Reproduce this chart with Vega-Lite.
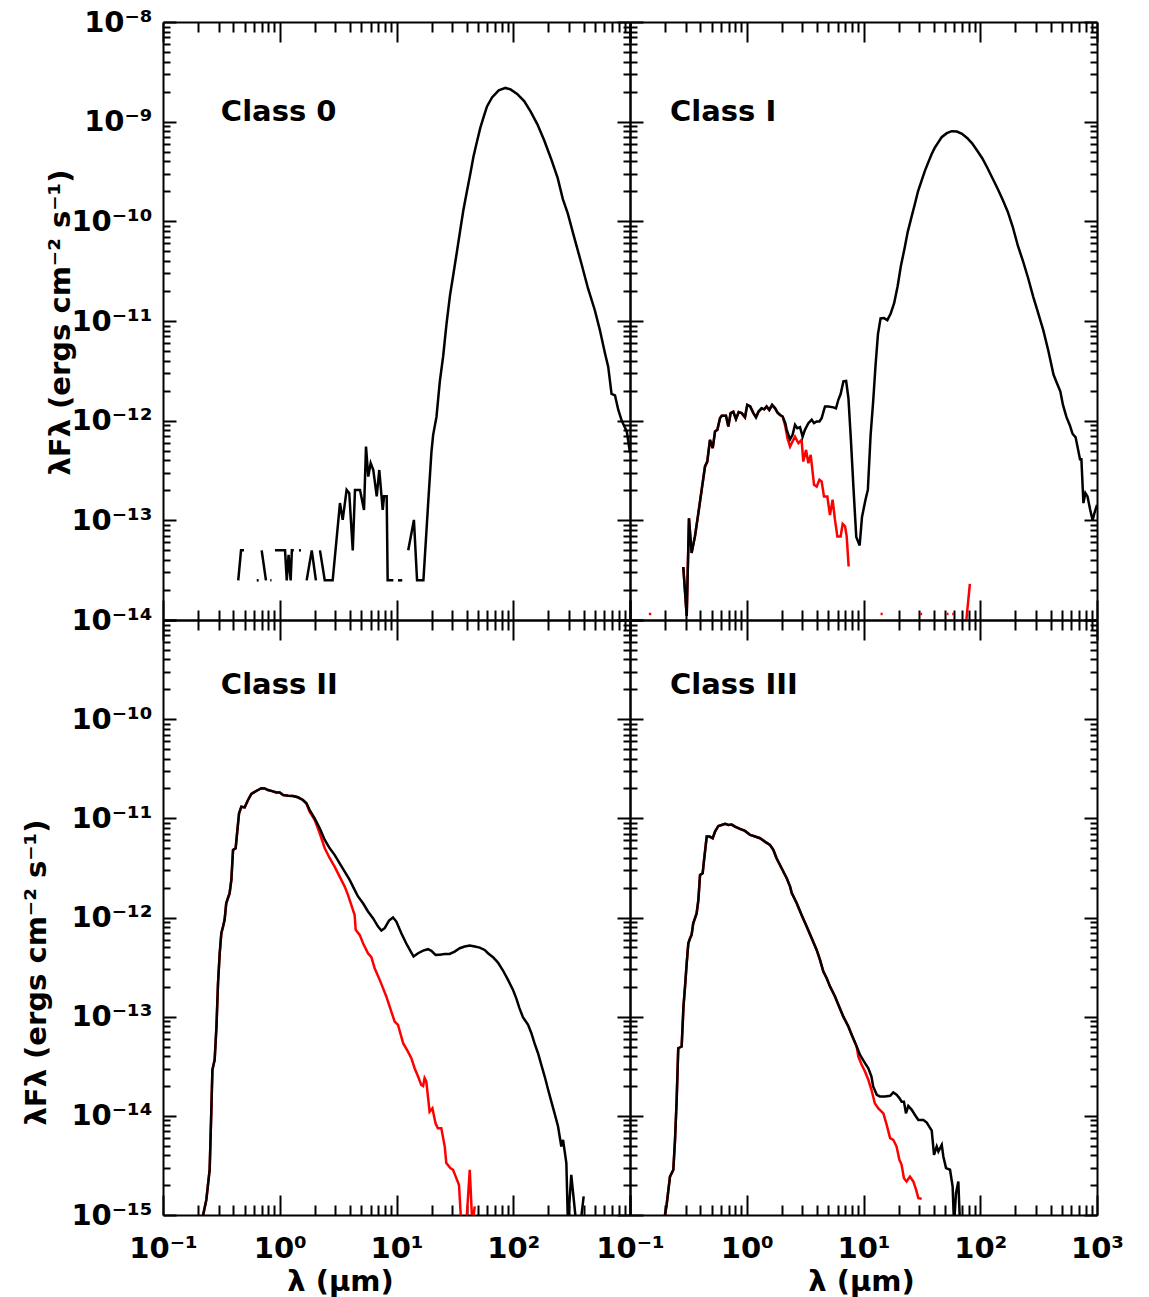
{
"$schema":"https://vega.github.io/schema/vega-lite/v6.json",
"autosize":{"type":"pad"},
"padding":{"left":22,"top":8,"right":5,"bottom":3},
"background":"white",
"config":{
 "view":{"stroke":null},
 "axis":{"domainColor":"#000","domainWidth":2,"tickColor":"#000","tickWidth":2,"grid":false,"labelFont":"DejaVu Sans","labelFontWeight":"bold","labelFontSize":29,"labelColor":"#000","labelOverlap":false,"labelFlush":false,"titleFont":"DejaVu Sans","titleFontWeight":"bold","titleFontSize":29,"titleColor":"#000","zindex":1}
},
"datasets":{
"lab":[
{"p":"0","t":"Class 0","x":0.313,"y":1.25e-9},
{"p":"I","t":"Class I","x":0.22,"y":1.25e-9},
{"p":"II","t":"Class II","x":0.313,"y":2.2e-10},
{"p":"III","t":"Class III","x":0.22,"y":2.2e-10}
],
"sed":[
{"p":"0","c":"k","s":1,"x":0.441,"y":2.5e-14},{"p":"0","c":"k","s":1,"x":0.466,"y":5e-14},{"p":"0","c":"k","s":1,"x":0.494,"y":5e-14},
{"p":"0","c":"k","s":2,"x":0.635,"y":2.5e-14},{"p":"0","c":"k","s":2,"x":0.66,"y":2.5e-14},
{"p":"0","c":"k","s":3,"x":0.70,"y":5e-14},{"p":"0","c":"k","s":3,"x":0.762,"y":2.5e-14},
{"p":"0","c":"k","s":4,"x":0.83,"y":2.5e-14},{"p":"0","c":"k","s":4,"x":0.85,"y":2.5e-14},
{"p":"0","c":"k","s":5,"x":0.91,"y":5e-14},{"p":"0","c":"k","s":5,"x":1.11,"y":5e-14},{"p":"0","c":"k","s":5,"x":1.148,"y":2.5e-14},{"p":"0","c":"k","s":5,"x":1.19,"y":4.5e-14},{"p":"0","c":"k","s":5,"x":1.24,"y":2.5e-14},{"p":"0","c":"k","s":5,"x":1.27,"y":5e-14},{"p":"0","c":"k","s":5,"x":1.32,"y":5e-14},
{"p":"0","c":"k","s":6,"x":1.46,"y":5e-14},{"p":"0","c":"k","s":6,"x":1.52,"y":5e-14},
{"p":"0","c":"k","s":7,"x":1.70,"y":2.5e-14},{"p":"0","c":"k","s":7,"x":1.88,"y":5e-14},{"p":"0","c":"k","s":7,"x":2.04,"y":2.5e-14},
{"p":"0","c":"k","s":8,"x":2.21,"y":5e-14},{"p":"0","c":"k","s":8,"x":2.43,"y":2.5e-14},{"p":"0","c":"k","s":8,"x":2.84,"y":2.5e-14},{"p":"0","c":"k","s":8,"x":3.28,"y":1.49e-13},{"p":"0","c":"k","s":8,"x":3.46,"y":1.01e-13},{"p":"0","c":"k","s":8,"x":3.74,"y":2.02e-13},{"p":"0","c":"k","s":8,"x":3.94,"y":1.87e-13},{"p":"0","c":"k","s":8,"x":4.22,"y":5e-14},{"p":"0","c":"k","s":8,"x":4.41,"y":2.02e-13},{"p":"0","c":"k","s":8,"x":4.87,"y":2.02e-13},{"p":"0","c":"k","s":8,"x":5.27,"y":1.27e-13},{"p":"0","c":"k","s":8,"x":5.48,"y":5.5e-13},{"p":"0","c":"k","s":8,"x":5.73,"y":2.75e-13},{"p":"0","c":"k","s":8,"x":6.01,"y":3.75e-13},{"p":"0","c":"k","s":8,"x":6.33,"y":3.2e-13},{"p":"0","c":"k","s":8,"x":6.77,"y":1.74e-13},{"p":"0","c":"k","s":8,"x":7.12,"y":3.2e-13},{"p":"0","c":"k","s":8,"x":7.62,"y":1.27e-13},{"p":"0","c":"k","s":8,"x":7.82,"y":1.74e-13},{"p":"0","c":"k","s":8,"x":8.24,"y":1.74e-13},{"p":"0","c":"k","s":8,"x":8.4,"y":2.5e-14},{"p":"0","c":"k","s":8,"x":9.4,"y":2.5e-14},
{"p":"0","c":"k","s":9,"x":10.3,"y":2.5e-14},{"p":"0","c":"k","s":9,"x":11.2,"y":2.5e-14},
{"p":"0","c":"k","s":10,"x":12.6,"y":5e-14},{"p":"0","c":"k","s":10,"x":14.1,"y":1.01e-13},{"p":"0","c":"k","s":10,"x":15.0,"y":2.5e-14},{"p":"0","c":"k","s":10,"x":17.0,"y":2.5e-14},{"p":"0","c":"k","s":10,"x":18.6,"y":1.38e-13},{"p":"0","c":"k","s":10,"x":19.9,"y":4.77e-13},{"p":"0","c":"k","s":10,"x":20.6,"y":7.2e-13},{"p":"0","c":"k","s":10,"x":22.0,"y":1.09e-12},{"p":"0","c":"k","s":10,"x":23.5,"y":2.48e-12},{"p":"0","c":"k","s":10,"x":25.1,"y":4.43e-12},{"p":"0","c":"k","s":10,"x":26.8,"y":9.3e-12},{"p":"0","c":"k","s":10,"x":28.7,"y":1.8e-11},{"p":"0","c":"k","s":10,"x":30.7,"y":2.94e-11},{"p":"0","c":"k","s":10,"x":32.8,"y":4.83e-11},{"p":"0","c":"k","s":10,"x":35.0,"y":7.9e-11},{"p":"0","c":"k","s":10,"x":37.4,"y":1.3e-10},{"p":"0","c":"k","s":10,"x":40.0,"y":1.97e-10},{"p":"0","c":"k","s":10,"x":42.8,"y":2.97e-10},{"p":"0","c":"k","s":10,"x":45.7,"y":4.49e-10},{"p":"0","c":"k","s":10,"x":48.8,"y":6.24e-10},{"p":"0","c":"k","s":10,"x":52.2,"y":8.67e-10},{"p":"0","c":"k","s":10,"x":55.7,"y":1.11e-9},{"p":"0","c":"k","s":10,"x":59.6,"y":1.42e-9},{"p":"0","c":"k","s":10,"x":65.8,"y":1.75e-9},{"p":"0","c":"k","s":10,"x":75.1,"y":2.06e-9},{"p":"0","c":"k","s":10,"x":85.8,"y":2.18e-9},{"p":"0","c":"k","s":10,"x":94.8,"y":2.11e-9},{"p":"0","c":"k","s":10,"x":108,"y":1.9e-9},{"p":"0","c":"k","s":10,"x":124,"y":1.61e-9},{"p":"0","c":"k","s":10,"x":141,"y":1.26e-9},{"p":"0","c":"k","s":10,"x":161,"y":9.4e-10},{"p":"0","c":"k","s":10,"x":184,"y":6.5e-10},{"p":"0","c":"k","s":10,"x":210,"y":4.3e-10},{"p":"0","c":"k","s":10,"x":240,"y":2.73e-10},{"p":"0","c":"k","s":10,"x":266,"y":1.67e-10},{"p":"0","c":"k","s":10,"x":293,"y":1.2e-10},{"p":"0","c":"k","s":10,"x":335,"y":6.7e-11},{"p":"0","c":"k","s":10,"x":383,"y":3.8e-11},{"p":"0","c":"k","s":10,"x":437,"y":2.12e-11},{"p":"0","c":"k","s":10,"x":499,"y":1.29e-11},{"p":"0","c":"k","s":10,"x":551,"y":8.2e-12},{"p":"0","c":"k","s":10,"x":609,"y":4.8e-12},{"p":"0","c":"k","s":10,"x":651,"y":3.46e-12},{"p":"0","c":"k","s":10,"x":695,"y":1.86e-12},{"p":"0","c":"k","s":10,"x":744,"y":1.79e-12},{"p":"0","c":"k","s":10,"x":794,"y":1.28e-12},{"p":"0","c":"k","s":10,"x":849,"y":1.0e-12},{"p":"0","c":"k","s":10,"x":938,"y":7.8e-13},{"p":"0","c":"k","s":10,"x":1000,"y":4.77e-13},

{"p":"I","c":"k","s":1,"x":0.286,"y":3.4e-14},{"p":"I","c":"k","s":1,"x":0.306,"y":1.1e-14},{"p":"I","c":"k","s":1,"x":0.320,"y":1.05e-13},{"p":"I","c":"k","s":1,"x":0.337,"y":4.7e-14},{"p":"I","c":"k","s":1,"x":0.360,"y":6.9e-14},{"p":"I","c":"k","s":1,"x":0.385,"y":1.18e-13},{"p":"I","c":"k","s":1,"x":0.411,"y":2.02e-13},{"p":"I","c":"k","s":1,"x":0.439,"y":3.47e-13},{"p":"I","c":"k","s":1,"x":0.459,"y":3.89e-13},{"p":"I","c":"k","s":1,"x":0.484,"y":6.41e-13},{"p":"I","c":"k","s":1,"x":0.511,"y":5.3e-13},{"p":"I","c":"k","s":1,"x":0.535,"y":7.78e-13},{"p":"I","c":"k","s":1,"x":0.560,"y":8.09e-13},{"p":"I","c":"k","s":1,"x":0.590,"y":1.06e-12},{"p":"I","c":"k","s":1,"x":0.610,"y":1.12e-12},{"p":"I","c":"k","s":1,"x":0.664,"y":1.12e-12},{"p":"I","c":"k","s":1,"x":0.695,"y":8.73e-13},{"p":"I","c":"k","s":1,"x":0.728,"y":1.19e-12},{"p":"I","c":"k","s":1,"x":0.767,"y":1.23e-12},{"p":"I","c":"k","s":1,"x":0.809,"y":1.04e-12},{"p":"I","c":"k","s":1,"x":0.853,"y":1.22e-12},{"p":"I","c":"k","s":1,"x":0.905,"y":1.19e-12},{"p":"I","c":"k","s":1,"x":0.966,"y":1.08e-12},{"p":"I","c":"k","s":1,"x":1.01,"y":1.44e-12},{"p":"I","c":"k","s":1,"x":1.07,"y":1.39e-12},{"p":"I","c":"k","s":1,"x":1.14,"y":1.19e-12},{"p":"I","c":"k","s":1,"x":1.20,"y":1.08e-12},{"p":"I","c":"k","s":1,"x":1.26,"y":1.23e-12},{"p":"I","c":"k","s":1,"x":1.34,"y":1.33e-12},{"p":"I","c":"k","s":1,"x":1.41,"y":1.3e-12},{"p":"I","c":"k","s":1,"x":1.48,"y":1.39e-12},{"p":"I","c":"k","s":1,"x":1.56,"y":1.28e-12},{"p":"I","c":"k","s":1,"x":1.65,"y":1.44e-12},{"p":"I","c":"k","s":1,"x":1.75,"y":1.33e-12},{"p":"I","c":"k","s":1,"x":1.83,"y":1.21e-12},{"p":"I","c":"k","s":1,"x":1.93,"y":1.14e-12},{"p":"I","c":"k","s":1,"x":2.03,"y":1.1e-12},
{"p":"I","c":"k","s":1,"x":2.14,"y":9.44e-13},{"p":"I","c":"k","s":1,"x":2.20,"y":8.09e-13},{"p":"I","c":"k","s":1,"x":2.35,"y":6.5e-13},{"p":"I","c":"k","s":1,"x":2.47,"y":7.2e-13},{"p":"I","c":"k","s":1,"x":2.59,"y":9.1e-13},{"p":"I","c":"k","s":1,"x":2.71,"y":8.4e-13},{"p":"I","c":"k","s":1,"x":2.86,"y":8.6e-13},{"p":"I","c":"k","s":1,"x":3.01,"y":6.9e-13},{"p":"I","c":"k","s":1,"x":3.15,"y":8.09e-13},{"p":"I","c":"k","s":1,"x":3.37,"y":9.44e-13},{"p":"I","c":"k","s":1,"x":3.60,"y":1.02e-12},{"p":"I","c":"k","s":1,"x":3.77,"y":9.44e-13},{"p":"I","c":"k","s":1,"x":3.97,"y":9.8e-13},{"p":"I","c":"k","s":1,"x":4.19,"y":9.8e-13},{"p":"I","c":"k","s":1,"x":4.38,"y":1.06e-12},{"p":"I","c":"k","s":1,"x":4.68,"y":1.39e-12},{"p":"I","c":"k","s":1,"x":5.00,"y":1.39e-12},{"p":"I","c":"k","s":1,"x":5.52,"y":1.36e-12},{"p":"I","c":"k","s":1,"x":5.81,"y":1.33e-12},{"p":"I","c":"k","s":1,"x":6.09,"y":1.62e-12},{"p":"I","c":"k","s":1,"x":6.37,"y":1.85e-12},{"p":"I","c":"k","s":1,"x":6.73,"y":2.48e-12},{"p":"I","c":"k","s":1,"x":7.10,"y":2.5e-12},{"p":"I","c":"k","s":1,"x":7.43,"y":1.68e-12},{"p":"I","c":"k","s":1,"x":7.79,"y":6.6e-13},{"p":"I","c":"k","s":1,"x":8.22,"y":2.03e-13},{"p":"I","c":"k","s":1,"x":8.67,"y":6.8e-14},{"p":"I","c":"k","s":1,"x":9.27,"y":5.6e-14},{"p":"I","c":"k","s":1,"x":9.71,"y":1.08e-13},{"p":"I","c":"k","s":1,"x":10.4,"y":1.61e-13},{"p":"I","c":"k","s":1,"x":10.9,"y":2.03e-13},{"p":"I","c":"k","s":1,"x":11.5,"y":7.1e-13},{"p":"I","c":"k","s":1,"x":12.1,"y":1.56e-12},{"p":"I","c":"k","s":1,"x":12.7,"y":3.68e-12},{"p":"I","c":"k","s":1,"x":13.3,"y":7.4e-12},{"p":"I","c":"k","s":1,"x":14.0,"y":1.06e-11},{"p":"I","c":"k","s":1,"x":15.0,"y":1.07e-11},{"p":"I","c":"k","s":1,"x":16.0,"y":1.02e-11},{"p":"I","c":"k","s":1,"x":17.1,"y":1.19e-11},{"p":"I","c":"k","s":1,"x":18.3,"y":1.51e-11},{"p":"I","c":"k","s":1,"x":19.6,"y":2.23e-11},{"p":"I","c":"k","s":1,"x":20.9,"y":3.56e-11},{"p":"I","c":"k","s":1,"x":22.4,"y":5.26e-11},{"p":"I","c":"k","s":1,"x":23.9,"y":7.8e-11},{"p":"I","c":"k","s":1,"x":25.6,"y":1.07e-10},{"p":"I","c":"k","s":1,"x":27.4,"y":1.46e-10},{"p":"I","c":"k","s":1,"x":29.3,"y":2.0e-10},{"p":"I","c":"k","s":1,"x":31.3,"y":2.52e-10},{"p":"I","c":"k","s":1,"x":33.5,"y":3.19e-10},{"p":"I","c":"k","s":1,"x":35.8,"y":3.88e-10},{"p":"I","c":"k","s":1,"x":38.3,"y":4.72e-10},{"p":"I","c":"k","s":1,"x":40.9,"y":5.51e-10},{"p":"I","c":"k","s":1,"x":43.7,"y":6.2e-10},{"p":"I","c":"k","s":1,"x":46.7,"y":6.98e-10},{"p":"I","c":"k","s":1,"x":51.7,"y":7.67e-10},{"p":"I","c":"k","s":1,"x":57.1,"y":8.03e-10},{"p":"I","c":"k","s":1,"x":63.1,"y":7.95e-10},{"p":"I","c":"k","s":1,"x":69.8,"y":7.55e-10},{"p":"I","c":"k","s":1,"x":77.1,"y":6.87e-10},{"p":"I","c":"k","s":1,"x":85.2,"y":6.06e-10},{"p":"I","c":"k","s":1,"x":94.3,"y":5.1e-10},{"p":"I","c":"k","s":1,"x":104,"y":4.3e-10},{"p":"I","c":"k","s":1,"x":115,"y":3.45e-10},{"p":"I","c":"k","s":1,"x":127,"y":2.72e-10},{"p":"I","c":"k","s":1,"x":141,"y":2.12e-10},{"p":"I","c":"k","s":1,"x":156,"y":1.64e-10},{"p":"I","c":"k","s":1,"x":172,"y":1.25e-10},{"p":"I","c":"k","s":1,"x":190,"y":8.77e-11},{"p":"I","c":"k","s":1,"x":210,"y":5.69e-11},{"p":"I","c":"k","s":1,"x":232,"y":4.01e-11},{"p":"I","c":"k","s":1,"x":257,"y":2.7e-11},{"p":"I","c":"k","s":1,"x":284,"y":1.76e-11},{"p":"I","c":"k","s":1,"x":314,"y":1.19e-11},{"p":"I","c":"k","s":1,"x":347,"y":8.05e-12},{"p":"I","c":"k","s":1,"x":383,"y":5.04e-12},{"p":"I","c":"k","s":1,"x":424,"y":2.9e-12},{"p":"I","c":"k","s":1,"x":453,"y":2.39e-12},{"p":"I","c":"k","s":1,"x":485,"y":1.97e-12},{"p":"I","c":"k","s":1,"x":511,"y":1.44e-12},{"p":"I","c":"k","s":1,"x":547,"y":1.09e-12},{"p":"I","c":"k","s":1,"x":585,"y":9.0e-13},{"p":"I","c":"k","s":1,"x":617,"y":7.4e-13},{"p":"I","c":"k","s":1,"x":656,"y":6.8e-13},{"p":"I","c":"k","s":1,"x":687,"y":5.19e-13},{"p":"I","c":"k","s":1,"x":715,"y":4.11e-13},{"p":"I","c":"k","s":1,"x":735,"y":4.11e-13},{"p":"I","c":"k","s":1,"x":765,"y":1.49e-13},{"p":"I","c":"k","s":1,"x":796,"y":1.88e-13},{"p":"I","c":"k","s":1,"x":829,"y":1.74e-13},{"p":"I","c":"k","s":1,"x":875,"y":1.27e-13},{"p":"I","c":"k","s":1,"x":917,"y":1.0e-13},{"p":"I","c":"k","s":1,"x":948,"y":1.17e-13},{"p":"I","c":"k","s":1,"x":1000,"y":1.43e-13},

{"p":"I","c":"r","s":1,"x":0.286,"y":3.4e-14},{"p":"I","c":"r","s":1,"x":0.306,"y":1.1e-14},{"p":"I","c":"r","s":1,"x":0.320,"y":1.05e-13},{"p":"I","c":"r","s":1,"x":0.337,"y":4.7e-14},{"p":"I","c":"r","s":1,"x":0.360,"y":6.9e-14},{"p":"I","c":"r","s":1,"x":0.385,"y":1.18e-13},{"p":"I","c":"r","s":1,"x":0.411,"y":2.02e-13},{"p":"I","c":"r","s":1,"x":0.439,"y":3.47e-13},{"p":"I","c":"r","s":1,"x":0.459,"y":3.89e-13},{"p":"I","c":"r","s":1,"x":0.484,"y":6.41e-13},{"p":"I","c":"r","s":1,"x":0.511,"y":5.3e-13},{"p":"I","c":"r","s":1,"x":0.535,"y":7.78e-13},{"p":"I","c":"r","s":1,"x":0.560,"y":8.09e-13},{"p":"I","c":"r","s":1,"x":0.590,"y":1.06e-12},{"p":"I","c":"r","s":1,"x":0.610,"y":1.12e-12},{"p":"I","c":"r","s":1,"x":0.664,"y":1.12e-12},{"p":"I","c":"r","s":1,"x":0.695,"y":8.73e-13},{"p":"I","c":"r","s":1,"x":0.728,"y":1.19e-12},{"p":"I","c":"r","s":1,"x":0.767,"y":1.23e-12},{"p":"I","c":"r","s":1,"x":0.809,"y":1.04e-12},{"p":"I","c":"r","s":1,"x":0.853,"y":1.22e-12},{"p":"I","c":"r","s":1,"x":0.905,"y":1.19e-12},{"p":"I","c":"r","s":1,"x":0.966,"y":1.08e-12},{"p":"I","c":"r","s":1,"x":1.01,"y":1.44e-12},{"p":"I","c":"r","s":1,"x":1.07,"y":1.39e-12},{"p":"I","c":"r","s":1,"x":1.14,"y":1.19e-12},{"p":"I","c":"r","s":1,"x":1.20,"y":1.08e-12},{"p":"I","c":"r","s":1,"x":1.26,"y":1.23e-12},{"p":"I","c":"r","s":1,"x":1.34,"y":1.33e-12},{"p":"I","c":"r","s":1,"x":1.41,"y":1.3e-12},{"p":"I","c":"r","s":1,"x":1.48,"y":1.39e-12},{"p":"I","c":"r","s":1,"x":1.56,"y":1.28e-12},{"p":"I","c":"r","s":1,"x":1.65,"y":1.44e-12},{"p":"I","c":"r","s":1,"x":1.75,"y":1.33e-12},{"p":"I","c":"r","s":1,"x":1.83,"y":1.21e-12},{"p":"I","c":"r","s":1,"x":1.93,"y":1.14e-12},{"p":"I","c":"r","s":1,"x":2.03,"y":1.1e-12},
{"p":"I","c":"r","s":1,"x":2.14,"y":8.73e-13},{"p":"I","c":"r","s":1,"x":2.23,"y":6.67e-13},{"p":"I","c":"r","s":1,"x":2.35,"y":5.5e-13},{"p":"I","c":"r","s":1,"x":2.47,"y":6.2e-13},{"p":"I","c":"r","s":1,"x":2.59,"y":6.9e-13},{"p":"I","c":"r","s":1,"x":2.77,"y":5.94e-13},{"p":"I","c":"r","s":1,"x":2.95,"y":6.41e-13},{"p":"I","c":"r","s":1,"x":3.05,"y":3.89e-13},{"p":"I","c":"r","s":1,"x":3.22,"y":5.09e-13},{"p":"I","c":"r","s":1,"x":3.37,"y":3.74e-13},{"p":"I","c":"r","s":1,"x":3.53,"y":4.54e-13},{"p":"I","c":"r","s":1,"x":3.77,"y":2.27e-13},{"p":"I","c":"r","s":1,"x":3.97,"y":2.18e-13},{"p":"I","c":"r","s":1,"x":4.19,"y":2.55e-13},{"p":"I","c":"r","s":1,"x":4.38,"y":2.45e-13},{"p":"I","c":"r","s":1,"x":4.59,"y":1.73e-13},{"p":"I","c":"r","s":1,"x":4.90,"y":1.73e-13},{"p":"I","c":"r","s":1,"x":5.16,"y":1.13e-13},{"p":"I","c":"r","s":1,"x":5.44,"y":1.61e-13},{"p":"I","c":"r","s":1,"x":5.70,"y":1.01e-13},{"p":"I","c":"r","s":1,"x":5.97,"y":6.9e-14},{"p":"I","c":"r","s":1,"x":6.37,"y":6.9e-14},{"p":"I","c":"r","s":1,"x":6.63,"y":9.2e-14},{"p":"I","c":"r","s":1,"x":6.95,"y":8.7e-14},{"p":"I","c":"r","s":1,"x":7.18,"y":6.9e-14},{"p":"I","c":"r","s":1,"x":7.46,"y":3.44e-14},
{"p":"I","c":"r","s":2,"x":0.145,"y":1.15e-14},{"p":"I","c":"r","s":2,"x":0.152,"y":1.15e-14},
{"p":"I","c":"r","s":3,"x":14.0,"y":1.15e-14},{"p":"I","c":"r","s":3,"x":14.6,"y":1.15e-14},
{"p":"I","c":"r","s":4,"x":30.5,"y":1.15e-14},{"p":"I","c":"r","s":4,"x":31.8,"y":1.15e-14},
{"p":"I","c":"r","s":5,"x":51.5,"y":1.15e-14},{"p":"I","c":"r","s":5,"x":53.5,"y":1.15e-14},
{"p":"I","c":"r","s":6,"x":57.5,"y":1.15e-14},{"p":"I","c":"r","s":6,"x":59.5,"y":1.15e-14},
{"p":"I","c":"r","s":7,"x":76,"y":1.0e-14},{"p":"I","c":"r","s":7,"x":81.5,"y":2.3e-14},

{"p":"II","c":"k","s":1,"x":0.212,"y":8e-16},{"p":"II","c":"k","s":1,"x":0.235,"y":1.42e-15},{"p":"II","c":"k","s":1,"x":0.251,"y":2.86e-15},{"p":"II","c":"k","s":1,"x":0.259,"y":1.06e-14},{"p":"II","c":"k","s":1,"x":0.265,"y":2.91e-14},{"p":"II","c":"k","s":1,"x":0.277,"y":3.67e-14},{"p":"II","c":"k","s":1,"x":0.287,"y":7.96e-14},{"p":"II","c":"k","s":1,"x":0.296,"y":2.17e-13},{"p":"II","c":"k","s":1,"x":0.306,"y":4.36e-13},{"p":"II","c":"k","s":1,"x":0.316,"y":6.94e-13},{"p":"II","c":"k","s":1,"x":0.327,"y":8.1e-13},{"p":"II","c":"k","s":1,"x":0.337,"y":9.46e-13},{"p":"II","c":"k","s":1,"x":0.348,"y":1.39e-12},{"p":"II","c":"k","s":1,"x":0.372,"y":1.76e-12},{"p":"II","c":"k","s":1,"x":0.385,"y":2.39e-12},{"p":"II","c":"k","s":1,"x":0.398,"y":4.8e-12},{"p":"II","c":"k","s":1,"x":0.419,"y":4.99e-12},{"p":"II","c":"k","s":1,"x":0.431,"y":7.07e-12},{"p":"II","c":"k","s":1,"x":0.448,"y":1.12e-11},{"p":"II","c":"k","s":1,"x":0.469,"y":1.31e-11},{"p":"II","c":"k","s":1,"x":0.501,"y":1.29e-11},{"p":"II","c":"k","s":1,"x":0.535,"y":1.53e-11},{"p":"II","c":"k","s":1,"x":0.571,"y":1.76e-11},{"p":"II","c":"k","s":1,"x":0.61,"y":1.85e-11},{"p":"II","c":"k","s":1,"x":0.652,"y":1.93e-11},{"p":"II","c":"k","s":1,"x":0.696,"y":2.01e-11},{"p":"II","c":"k","s":1,"x":0.743,"y":2.0e-11},{"p":"II","c":"k","s":1,"x":0.793,"y":1.93e-11},{"p":"II","c":"k","s":1,"x":0.847,"y":1.89e-11},{"p":"II","c":"k","s":1,"x":0.935,"y":1.82e-11},{"p":"II","c":"k","s":1,"x":1.0,"y":1.82e-11},{"p":"II","c":"k","s":1,"x":1.07,"y":1.72e-11},{"p":"II","c":"k","s":1,"x":1.18,"y":1.69e-11},{"p":"II","c":"k","s":1,"x":1.3,"y":1.68e-11},{"p":"II","c":"k","s":1,"x":1.43,"y":1.63e-11},{"p":"II","c":"k","s":1,"x":1.58,"y":1.53e-11},{"p":"II","c":"k","s":1,"x":1.69,"y":1.42e-11},
{"p":"II","c":"k","s":1,"x":1.8,"y":1.22e-11},{"p":"II","c":"k","s":1,"x":1.99,"y":1.0e-11},{"p":"II","c":"k","s":1,"x":2.2,"y":7.94e-12},{"p":"II","c":"k","s":1,"x":2.43,"y":6.06e-12},{"p":"II","c":"k","s":1,"x":2.68,"y":4.99e-12},{"p":"II","c":"k","s":1,"x":2.95,"y":4.28e-12},{"p":"II","c":"k","s":1,"x":3.26,"y":3.52e-12},{"p":"II","c":"k","s":1,"x":3.6,"y":2.9e-12},{"p":"II","c":"k","s":1,"x":3.97,"y":2.39e-12},{"p":"II","c":"k","s":1,"x":4.38,"y":1.9e-12},{"p":"II","c":"k","s":1,"x":4.68,"y":1.63e-12},{"p":"II","c":"k","s":1,"x":5.17,"y":1.39e-12},{"p":"II","c":"k","s":1,"x":5.7,"y":1.15e-12},{"p":"II","c":"k","s":1,"x":6.29,"y":9.84e-13},{"p":"II","c":"k","s":1,"x":6.95,"y":8.1e-13},{"p":"II","c":"k","s":1,"x":7.42,"y":7.38e-13},{"p":"II","c":"k","s":1,"x":7.92,"y":7.8e-13},{"p":"II","c":"k","s":1,"x":8.63,"y":9.3e-13},{"p":"II","c":"k","s":1,"x":9.34,"y":1.0e-12},{"p":"II","c":"k","s":1,"x":9.97,"y":9.1e-13},{"p":"II","c":"k","s":1,"x":11.0,"y":6.94e-13},{"p":"II","c":"k","s":1,"x":12.1,"y":5.5e-13},{"p":"II","c":"k","s":1,"x":13.0,"y":4.71e-13},{"p":"II","c":"k","s":1,"x":14.0,"y":4.04e-13},{"p":"II","c":"k","s":1,"x":15.3,"y":4.36e-13},{"p":"II","c":"k","s":1,"x":16.9,"y":4.64e-13},{"p":"II","c":"k","s":1,"x":18.6,"y":4.79e-13},{"p":"II","c":"k","s":1,"x":19.9,"y":4.61e-13},{"p":"II","c":"k","s":1,"x":21.6,"y":4.2e-13},{"p":"II","c":"k","s":1,"x":23.4,"y":4.22e-13},{"p":"II","c":"k","s":1,"x":25.9,"y":4.29e-13},{"p":"II","c":"k","s":1,"x":28.5,"y":4.29e-13},{"p":"II","c":"k","s":1,"x":31.5,"y":4.53e-13},{"p":"II","c":"k","s":1,"x":34.8,"y":4.9e-13},{"p":"II","c":"k","s":1,"x":38.4,"y":5.09e-13},{"p":"II","c":"k","s":1,"x":42.4,"y":5.21e-13},{"p":"II","c":"k","s":1,"x":46.8,"y":5.09e-13},{"p":"II","c":"k","s":1,"x":51.6,"y":4.97e-13},{"p":"II","c":"k","s":1,"x":56.9,"y":4.71e-13},{"p":"II","c":"k","s":1,"x":60.8,"y":4.36e-13},{"p":"II","c":"k","s":1,"x":67.1,"y":3.98e-13},{"p":"II","c":"k","s":1,"x":74.0,"y":3.51e-13},{"p":"II","c":"k","s":1,"x":81.7,"y":2.92e-13},{"p":"II","c":"k","s":1,"x":90.2,"y":2.35e-13},{"p":"II","c":"k","s":1,"x":99.6,"y":1.86e-13},{"p":"II","c":"k","s":1,"x":106,"y":1.54e-13},{"p":"II","c":"k","s":1,"x":113,"y":1.22e-13},{"p":"II","c":"k","s":1,"x":121,"y":9.88e-14},{"p":"II","c":"k","s":1,"x":134,"y":8.26e-14},{"p":"II","c":"k","s":1,"x":143,"y":6.81e-14},{"p":"II","c":"k","s":1,"x":152,"y":5.4e-14},{"p":"II","c":"k","s":1,"x":163,"y":4.28e-14},{"p":"II","c":"k","s":1,"x":174,"y":3.27e-14},{"p":"II","c":"k","s":1,"x":186,"y":2.49e-14},{"p":"II","c":"k","s":1,"x":199,"y":1.83e-14},{"p":"II","c":"k","s":1,"x":212,"y":1.39e-14},{"p":"II","c":"k","s":1,"x":226,"y":1.06e-14},{"p":"II","c":"k","s":1,"x":242,"y":7.8e-15},{"p":"II","c":"k","s":1,"x":258,"y":4.9e-15},{"p":"II","c":"k","s":1,"x":267,"y":5.73e-15},{"p":"II","c":"k","s":1,"x":285,"y":3.34e-15},{"p":"II","c":"k","s":1,"x":294,"y":8e-16},{"p":"II","c":"k","s":1,"x":314,"y":2.54e-15},{"p":"II","c":"k","s":1,"x":347,"y":8e-16},{"p":"II","c":"k","s":1,"x":376,"y":8e-16},{"p":"II","c":"k","s":1,"x":401,"y":1.54e-15},

{"p":"II","c":"r","s":1,"x":0.212,"y":8e-16},{"p":"II","c":"r","s":1,"x":0.235,"y":1.42e-15},{"p":"II","c":"r","s":1,"x":0.251,"y":2.86e-15},{"p":"II","c":"r","s":1,"x":0.259,"y":1.06e-14},{"p":"II","c":"r","s":1,"x":0.265,"y":2.91e-14},{"p":"II","c":"r","s":1,"x":0.277,"y":3.67e-14},{"p":"II","c":"r","s":1,"x":0.287,"y":7.96e-14},{"p":"II","c":"r","s":1,"x":0.296,"y":2.17e-13},{"p":"II","c":"r","s":1,"x":0.306,"y":4.36e-13},{"p":"II","c":"r","s":1,"x":0.316,"y":6.94e-13},{"p":"II","c":"r","s":1,"x":0.327,"y":8.1e-13},{"p":"II","c":"r","s":1,"x":0.337,"y":9.46e-13},{"p":"II","c":"r","s":1,"x":0.348,"y":1.39e-12},{"p":"II","c":"r","s":1,"x":0.372,"y":1.76e-12},{"p":"II","c":"r","s":1,"x":0.385,"y":2.39e-12},{"p":"II","c":"r","s":1,"x":0.398,"y":4.8e-12},{"p":"II","c":"r","s":1,"x":0.419,"y":4.99e-12},{"p":"II","c":"r","s":1,"x":0.431,"y":7.07e-12},{"p":"II","c":"r","s":1,"x":0.448,"y":1.12e-11},{"p":"II","c":"r","s":1,"x":0.469,"y":1.31e-11},{"p":"II","c":"r","s":1,"x":0.501,"y":1.29e-11},{"p":"II","c":"r","s":1,"x":0.535,"y":1.53e-11},{"p":"II","c":"r","s":1,"x":0.571,"y":1.76e-11},{"p":"II","c":"r","s":1,"x":0.61,"y":1.85e-11},{"p":"II","c":"r","s":1,"x":0.652,"y":1.93e-11},{"p":"II","c":"r","s":1,"x":0.696,"y":2.01e-11},{"p":"II","c":"r","s":1,"x":0.743,"y":2.0e-11},{"p":"II","c":"r","s":1,"x":0.793,"y":1.93e-11},{"p":"II","c":"r","s":1,"x":0.847,"y":1.89e-11},{"p":"II","c":"r","s":1,"x":0.935,"y":1.82e-11},{"p":"II","c":"r","s":1,"x":1.0,"y":1.82e-11},{"p":"II","c":"r","s":1,"x":1.07,"y":1.72e-11},{"p":"II","c":"r","s":1,"x":1.18,"y":1.69e-11},{"p":"II","c":"r","s":1,"x":1.3,"y":1.68e-11},{"p":"II","c":"r","s":1,"x":1.43,"y":1.63e-11},{"p":"II","c":"r","s":1,"x":1.58,"y":1.53e-11},{"p":"II","c":"r","s":1,"x":1.69,"y":1.42e-11},
{"p":"II","c":"r","s":1,"x":1.8,"y":1.17e-11},{"p":"II","c":"r","s":1,"x":1.99,"y":9.64e-12},{"p":"II","c":"r","s":1,"x":2.2,"y":7.07e-12},{"p":"II","c":"r","s":1,"x":2.43,"y":4.99e-12},{"p":"II","c":"r","s":1,"x":2.68,"y":3.96e-12},{"p":"II","c":"r","s":1,"x":2.95,"y":3.26e-12},{"p":"II","c":"r","s":1,"x":3.26,"y":2.58e-12},{"p":"II","c":"r","s":1,"x":3.6,"y":2.05e-12},{"p":"II","c":"r","s":1,"x":3.84,"y":1.69e-12},{"p":"II","c":"r","s":1,"x":4.1,"y":1.34e-12},{"p":"II","c":"r","s":1,"x":4.38,"y":1.06e-12},{"p":"II","c":"r","s":1,"x":4.47,"y":7.5e-13},{"p":"II","c":"r","s":1,"x":4.84,"y":6.68e-13},{"p":"II","c":"r","s":1,"x":5.17,"y":5.5e-13},{"p":"II","c":"r","s":1,"x":5.7,"y":4.36e-13},{"p":"II","c":"r","s":1,"x":6.09,"y":3.98e-13},{"p":"II","c":"r","s":1,"x":6.5,"y":3.08e-13},{"p":"II","c":"r","s":1,"x":7.18,"y":2.35e-13},{"p":"II","c":"r","s":1,"x":7.66,"y":1.94e-13},{"p":"II","c":"r","s":1,"x":8.18,"y":1.6e-13},{"p":"II","c":"r","s":1,"x":8.74,"y":1.26e-13},{"p":"II","c":"r","s":1,"x":9.64,"y":8.93e-14},{"p":"II","c":"r","s":1,"x":10.3,"y":8.26e-14},{"p":"II","c":"r","s":1,"x":11.4,"y":5.4e-14},{"p":"II","c":"r","s":1,"x":12.5,"y":4.46e-14},{"p":"II","c":"r","s":1,"x":13.4,"y":3.81e-14},{"p":"II","c":"r","s":1,"x":14.3,"y":3.02e-14},{"p":"II","c":"r","s":1,"x":15.3,"y":2.49e-14},{"p":"II","c":"r","s":1,"x":16.3,"y":2.05e-14},{"p":"II","c":"r","s":1,"x":16.9,"y":2.0e-14},{"p":"II","c":"r","s":1,"x":17.4,"y":2.4e-14},{"p":"II","c":"r","s":1,"x":18.0,"y":2.22e-14},{"p":"II","c":"r","s":1,"x":19.2,"y":1.1e-14},{"p":"II","c":"r","s":1,"x":20.3,"y":1.19e-14},{"p":"II","c":"r","s":1,"x":21.6,"y":8.4e-15},{"p":"II","c":"r","s":1,"x":22.6,"y":7.5e-15},{"p":"II","c":"r","s":1,"x":24.2,"y":7.5e-15},{"p":"II","c":"r","s":1,"x":25.9,"y":4.9e-15},{"p":"II","c":"r","s":1,"x":26.7,"y":3.34e-15},{"p":"II","c":"r","s":1,"x":28.9,"y":2.97e-15},{"p":"II","c":"r","s":1,"x":30.5,"y":2.86e-15},{"p":"II","c":"r","s":1,"x":32.1,"y":2.45e-15},{"p":"II","c":"r","s":1,"x":34.3,"y":2.01e-15},{"p":"II","c":"r","s":1,"x":35.9,"y":8e-16},{"p":"II","c":"r","s":1,"x":39.6,"y":8e-16},{"p":"II","c":"r","s":1,"x":42.4,"y":2.86e-15},{"p":"II","c":"r","s":1,"x":44.6,"y":8e-16},{"p":"II","c":"r","s":1,"x":46.8,"y":1.22e-15},

{"p":"III","c":"k","s":1,"x":0.193,"y":8e-16},{"p":"III","c":"k","s":1,"x":0.206,"y":1.27e-15},{"p":"III","c":"k","s":1,"x":0.22,"y":2.44e-15},{"p":"III","c":"k","s":1,"x":0.235,"y":2.86e-15},{"p":"III","c":"k","s":1,"x":0.243,"y":5.73e-15},{"p":"III","c":"k","s":1,"x":0.251,"y":1.45e-14},{"p":"III","c":"k","s":1,"x":0.259,"y":4.81e-14},{"p":"III","c":"k","s":1,"x":0.277,"y":5.0e-14},{"p":"III","c":"k","s":1,"x":0.287,"y":1.26e-13},{"p":"III","c":"k","s":1,"x":0.296,"y":2.01e-13},{"p":"III","c":"k","s":1,"x":0.306,"y":3.46e-13},{"p":"III","c":"k","s":1,"x":0.316,"y":5.5e-13},{"p":"III","c":"k","s":1,"x":0.327,"y":6.18e-13},{"p":"III","c":"k","s":1,"x":0.337,"y":6.68e-13},{"p":"III","c":"k","s":1,"x":0.348,"y":8.75e-13},{"p":"III","c":"k","s":1,"x":0.372,"y":1.1e-12},{"p":"III","c":"k","s":1,"x":0.385,"y":1.5e-12},{"p":"III","c":"k","s":1,"x":0.398,"y":2.69e-12},{"p":"III","c":"k","s":1,"x":0.419,"y":2.79e-12},{"p":"III","c":"k","s":1,"x":0.431,"y":3.81e-12},{"p":"III","c":"k","s":1,"x":0.454,"y":6.55e-12},{"p":"III","c":"k","s":1,"x":0.479,"y":6.55e-12},{"p":"III","c":"k","s":1,"x":0.511,"y":6.3e-12},{"p":"III","c":"k","s":1,"x":0.535,"y":7.35e-12},{"p":"III","c":"k","s":1,"x":0.571,"y":8.38e-12},{"p":"III","c":"k","s":1,"x":0.61,"y":8.58e-12},{"p":"III","c":"k","s":1,"x":0.652,"y":8.79e-12},{"p":"III","c":"k","s":1,"x":0.696,"y":8.58e-12},{"p":"III","c":"k","s":1,"x":0.743,"y":8.65e-12},{"p":"III","c":"k","s":1,"x":0.793,"y":8.26e-12},{"p":"III","c":"k","s":1,"x":0.875,"y":7.82e-12},{"p":"III","c":"k","s":1,"x":0.966,"y":7.46e-12},{"p":"III","c":"k","s":1,"x":1.07,"y":6.8e-12},{"p":"III","c":"k","s":1,"x":1.18,"y":6.55e-12},{"p":"III","c":"k","s":1,"x":1.3,"y":6.3e-12},{"p":"III","c":"k","s":1,"x":1.43,"y":5.82e-12},{"p":"III","c":"k","s":1,"x":1.58,"y":5.4e-12},{"p":"III","c":"k","s":1,"x":1.69,"y":4.8e-12},{"p":"III","c":"k","s":1,"x":1.8,"y":3.96e-12},{"p":"III","c":"k","s":1,"x":1.99,"y":3.14e-12},{"p":"III","c":"k","s":1,"x":2.2,"y":2.49e-12},{"p":"III","c":"k","s":1,"x":2.35,"y":2.05e-12},{"p":"III","c":"k","s":1,"x":2.43,"y":1.76e-12},{"p":"III","c":"k","s":1,"x":2.68,"y":1.39e-12},{"p":"III","c":"k","s":1,"x":2.95,"y":1.06e-12},{"p":"III","c":"k","s":1,"x":3.26,"y":8.1e-13},{"p":"III","c":"k","s":1,"x":3.6,"y":6.18e-13},{"p":"III","c":"k","s":1,"x":3.97,"y":4.71e-13},{"p":"III","c":"k","s":1,"x":4.24,"y":3.74e-13},{"p":"III","c":"k","s":1,"x":4.53,"y":2.85e-13},{"p":"III","c":"k","s":1,"x":4.84,"y":2.44e-13},{"p":"III","c":"k","s":1,"x":5.17,"y":2.01e-13},{"p":"III","c":"k","s":1,"x":5.7,"y":1.6e-13},{"p":"III","c":"k","s":1,"x":6.09,"y":1.32e-13},{"p":"III","c":"k","s":1,"x":6.72,"y":1.0e-13},{"p":"III","c":"k","s":1,"x":7.42,"y":7.96e-14},{"p":"III","c":"k","s":1,"x":7.92,"y":6.56e-14},{"p":"III","c":"k","s":1,"x":8.74,"y":5.0e-14},
{"p":"III","c":"k","s":1,"x":9.34,"y":4.12e-14},{"p":"III","c":"k","s":1,"x":10.3,"y":3.4e-14},{"p":"III","c":"k","s":1,"x":11.0,"y":3.02e-14},{"p":"III","c":"k","s":1,"x":11.7,"y":2.49e-14},{"p":"III","c":"k","s":1,"x":12.1,"y":1.98e-14},{"p":"III","c":"k","s":1,"x":13.0,"y":1.63e-14},{"p":"III","c":"k","s":1,"x":13.8,"y":1.57e-14},{"p":"III","c":"k","s":1,"x":15.3,"y":1.57e-14},{"p":"III","c":"k","s":1,"x":16.9,"y":1.59e-14},{"p":"III","c":"k","s":1,"x":18.0,"y":1.72e-14},{"p":"III","c":"k","s":1,"x":19.2,"y":1.63e-14},{"p":"III","c":"k","s":1,"x":20.3,"y":1.51e-14},{"p":"III","c":"k","s":1,"x":21.2,"y":1.39e-14},{"p":"III","c":"k","s":1,"x":22.2,"y":1.39e-14},{"p":"III","c":"k","s":1,"x":23.1,"y":1.06e-14},{"p":"III","c":"k","s":1,"x":24.2,"y":1.26e-14},{"p":"III","c":"k","s":1,"x":25.9,"y":1.15e-14},{"p":"III","c":"k","s":1,"x":27.6,"y":1.02e-14},{"p":"III","c":"k","s":1,"x":29.5,"y":9.1e-15},{"p":"III","c":"k","s":1,"x":32.6,"y":9.1e-15},{"p":"III","c":"k","s":1,"x":34.8,"y":8.57e-15},{"p":"III","c":"k","s":1,"x":38.4,"y":7.1e-15},{"p":"III","c":"k","s":1,"x":40.2,"y":4.05e-15},{"p":"III","c":"k","s":1,"x":42.4,"y":4.9e-15},{"p":"III","c":"k","s":1,"x":43.8,"y":4.37e-15},{"p":"III","c":"k","s":1,"x":46.8,"y":5.1e-15},{"p":"III","c":"k","s":1,"x":48.3,"y":3.89e-15},{"p":"III","c":"k","s":1,"x":50.9,"y":2.97e-15},{"p":"III","c":"k","s":1,"x":55.1,"y":2.86e-15},{"p":"III","c":"k","s":1,"x":58.0,"y":1.94e-15},{"p":"III","c":"k","s":1,"x":59.6,"y":8e-16},{"p":"III","c":"k","s":1,"x":62.0,"y":1.66e-15},{"p":"III","c":"k","s":1,"x":64.9,"y":2.18e-15},{"p":"III","c":"k","s":1,"x":67.1,"y":8e-16},

{"p":"III","c":"r","s":1,"x":0.193,"y":8e-16},{"p":"III","c":"r","s":1,"x":0.206,"y":1.27e-15},{"p":"III","c":"r","s":1,"x":0.22,"y":2.44e-15},{"p":"III","c":"r","s":1,"x":0.235,"y":2.86e-15},{"p":"III","c":"r","s":1,"x":0.243,"y":5.73e-15},{"p":"III","c":"r","s":1,"x":0.251,"y":1.45e-14},{"p":"III","c":"r","s":1,"x":0.259,"y":4.81e-14},{"p":"III","c":"r","s":1,"x":0.277,"y":5.0e-14},{"p":"III","c":"r","s":1,"x":0.287,"y":1.26e-13},{"p":"III","c":"r","s":1,"x":0.296,"y":2.01e-13},{"p":"III","c":"r","s":1,"x":0.306,"y":3.46e-13},{"p":"III","c":"r","s":1,"x":0.316,"y":5.5e-13},{"p":"III","c":"r","s":1,"x":0.327,"y":6.18e-13},{"p":"III","c":"r","s":1,"x":0.337,"y":6.68e-13},{"p":"III","c":"r","s":1,"x":0.348,"y":8.75e-13},{"p":"III","c":"r","s":1,"x":0.372,"y":1.1e-12},{"p":"III","c":"r","s":1,"x":0.385,"y":1.5e-12},{"p":"III","c":"r","s":1,"x":0.398,"y":2.69e-12},{"p":"III","c":"r","s":1,"x":0.419,"y":2.79e-12},{"p":"III","c":"r","s":1,"x":0.431,"y":3.81e-12},{"p":"III","c":"r","s":1,"x":0.454,"y":6.55e-12},{"p":"III","c":"r","s":1,"x":0.479,"y":6.55e-12},{"p":"III","c":"r","s":1,"x":0.511,"y":6.3e-12},{"p":"III","c":"r","s":1,"x":0.535,"y":7.35e-12},{"p":"III","c":"r","s":1,"x":0.571,"y":8.38e-12},{"p":"III","c":"r","s":1,"x":0.61,"y":8.58e-12},{"p":"III","c":"r","s":1,"x":0.652,"y":8.79e-12},{"p":"III","c":"r","s":1,"x":0.696,"y":8.58e-12},{"p":"III","c":"r","s":1,"x":0.743,"y":8.65e-12},{"p":"III","c":"r","s":1,"x":0.793,"y":8.26e-12},{"p":"III","c":"r","s":1,"x":0.875,"y":7.82e-12},{"p":"III","c":"r","s":1,"x":0.966,"y":7.46e-12},{"p":"III","c":"r","s":1,"x":1.07,"y":6.8e-12},{"p":"III","c":"r","s":1,"x":1.18,"y":6.55e-12},{"p":"III","c":"r","s":1,"x":1.3,"y":6.3e-12},{"p":"III","c":"r","s":1,"x":1.43,"y":5.82e-12},{"p":"III","c":"r","s":1,"x":1.58,"y":5.4e-12},{"p":"III","c":"r","s":1,"x":1.69,"y":4.8e-12},{"p":"III","c":"r","s":1,"x":1.8,"y":3.96e-12},{"p":"III","c":"r","s":1,"x":1.99,"y":3.14e-12},{"p":"III","c":"r","s":1,"x":2.2,"y":2.49e-12},{"p":"III","c":"r","s":1,"x":2.35,"y":2.05e-12},{"p":"III","c":"r","s":1,"x":2.43,"y":1.76e-12},{"p":"III","c":"r","s":1,"x":2.68,"y":1.39e-12},{"p":"III","c":"r","s":1,"x":2.95,"y":1.06e-12},{"p":"III","c":"r","s":1,"x":3.26,"y":8.1e-13},{"p":"III","c":"r","s":1,"x":3.6,"y":6.18e-13},{"p":"III","c":"r","s":1,"x":3.97,"y":4.71e-13},{"p":"III","c":"r","s":1,"x":4.24,"y":3.74e-13},{"p":"III","c":"r","s":1,"x":4.53,"y":2.85e-13},{"p":"III","c":"r","s":1,"x":4.84,"y":2.44e-13},{"p":"III","c":"r","s":1,"x":5.17,"y":2.01e-13},{"p":"III","c":"r","s":1,"x":5.7,"y":1.6e-13},{"p":"III","c":"r","s":1,"x":6.09,"y":1.32e-13},{"p":"III","c":"r","s":1,"x":6.72,"y":1.0e-13},{"p":"III","c":"r","s":1,"x":7.42,"y":7.96e-14},{"p":"III","c":"r","s":1,"x":7.92,"y":6.56e-14},{"p":"III","c":"r","s":1,"x":8.74,"y":5.0e-14},
{"p":"III","c":"r","s":1,"x":9.03,"y":3.96e-14},{"p":"III","c":"r","s":1,"x":9.64,"y":3.27e-14},{"p":"III","c":"r","s":1,"x":10.3,"y":2.8e-14},{"p":"III","c":"r","s":1,"x":11.0,"y":2.31e-14},{"p":"III","c":"r","s":1,"x":11.7,"y":1.83e-14},{"p":"III","c":"r","s":1,"x":12.5,"y":1.34e-14},{"p":"III","c":"r","s":1,"x":13.4,"y":1.19e-14},{"p":"III","c":"r","s":1,"x":14.8,"y":1.06e-14},{"p":"III","c":"r","s":1,"x":15.8,"y":8.1e-15},{"p":"III","c":"r","s":1,"x":16.9,"y":5.96e-15},{"p":"III","c":"r","s":1,"x":18.0,"y":5.73e-15},{"p":"III","c":"r","s":1,"x":19.2,"y":4.9e-15},{"p":"III","c":"r","s":1,"x":20.3,"y":3.6e-15},{"p":"III","c":"r","s":1,"x":21.2,"y":3.21e-15},{"p":"III","c":"r","s":1,"x":22.2,"y":2.35e-15},{"p":"III","c":"r","s":1,"x":23.4,"y":2.18e-15},{"p":"III","c":"r","s":1,"x":25.0,"y":2.44e-15},{"p":"III","c":"r","s":1,"x":26.7,"y":2.18e-15},{"p":"III","c":"r","s":1,"x":28.2,"y":1.8e-15},{"p":"III","c":"r","s":1,"x":29.5,"y":1.48e-15},{"p":"III","c":"r","s":1,"x":31.5,"y":1.46e-15}
]
},
"columns":2,
"spacing":0,
"bounds":"flush",
"concat":[
 {"width":467,"height":598,
  "resolve":{"axis":{"x":"independent","y":"independent"}},
  "layer":[
   {"data":{"name":"sed"},"transform":[{"filter":"datum.p=='0' && datum.c=='r'"}],
    "mark":{"type":"line","color":"#ff0000","strokeWidth":2.5,"clip":true},
    "encoding":{
     "x":{"field":"x","type":"quantitative","scale":{"type":"log","domain":[0.1,1000],"nice":false},
      "axis":{"orient":"bottom","values":[0.1,0.2,0.3,0.4,0.5,0.6,0.7,0.8,0.9,1,2,3,4,5,6,7,8,9,10,20,30,40,50,60,70,80,90,100,200,300,400,500,600,700,800,900,1000],"tickSize":{"condition":{"test":"abs(log(datum.value)/LN10-round(log(datum.value)/LN10))<0.01","value":-20},"value":-10},"labels":false,"title":null}},
     "y":{"field":"y","type":"quantitative","scale":{"type":"log","domain":[1e-14,1e-8],"nice":false},
      "axis":{"orient":"left","values":[1e-14,2e-14,3e-14,4e-14,5e-14,6e-14,7e-14,8e-14,9e-14,1e-13,2e-13,3e-13,4e-13,5e-13,6e-13,7e-13,8e-13,9e-13,1e-12,2e-12,3e-12,4e-12,5e-12,6e-12,7e-12,8e-12,9e-12,1e-11,2e-11,3e-11,4e-11,5e-11,6e-11,7e-11,8e-11,9e-11,1e-10,2e-10,3e-10,4e-10,5e-10,6e-10,7e-10,8e-10,9e-10,1e-9,2e-9,3e-9,4e-9,5e-9,6e-9,7e-9,8e-9,9e-9,1e-8],"tickSize":{"condition":{"test":"abs(log(datum.value)/LN10-round(log(datum.value)/LN10))<0.01","value":-13},"value":-7},
       "labelExpr":"abs(log(datum.value)/LN10-round(log(datum.value)/LN10))<0.01 ? ['10⁻¹⁴','10⁻¹³','10⁻¹²','10⁻¹¹','10⁻¹⁰','10⁻⁹','10⁻⁸'][round(log(datum.value)/LN10)+14] : ''",
       "labelPadding":24,"title":"λFλ (ergs cm⁻² s⁻¹)","titleX":-103,"titleY":300,"titleBaseline":"middle"}},
     "detail":{"field":"s","type":"nominal"}}},
   {"data":{"name":"sed"},"transform":[{"filter":"datum.p=='0' && datum.c=='k'"}],
    "mark":{"type":"line","color":"#000000","strokeWidth":2.5,"clip":true},
    "encoding":{
     "x":{"field":"x","type":"quantitative","scale":{"type":"log","domain":[0.1,1000],"nice":false},
      "axis":{"orient":"top","values":[0.1,0.2,0.3,0.4,0.5,0.6,0.7,0.8,0.9,1,2,3,4,5,6,7,8,9,10,20,30,40,50,60,70,80,90,100,200,300,400,500,600,700,800,900,1000],"tickSize":{"condition":{"test":"abs(log(datum.value)/LN10-round(log(datum.value)/LN10))<0.01","value":-20},"value":-10},"labels":false,"title":null}},
     "y":{"field":"y","type":"quantitative","scale":{"type":"log","domain":[1e-14,1e-8],"nice":false},
      "axis":{"orient":"right","values":[1e-14,2e-14,3e-14,4e-14,5e-14,6e-14,7e-14,8e-14,9e-14,1e-13,2e-13,3e-13,4e-13,5e-13,6e-13,7e-13,8e-13,9e-13,1e-12,2e-12,3e-12,4e-12,5e-12,6e-12,7e-12,8e-12,9e-12,1e-11,2e-11,3e-11,4e-11,5e-11,6e-11,7e-11,8e-11,9e-11,1e-10,2e-10,3e-10,4e-10,5e-10,6e-10,7e-10,8e-10,9e-10,1e-9,2e-9,3e-9,4e-9,5e-9,6e-9,7e-9,8e-9,9e-9,1e-8],"tickSize":{"condition":{"test":"abs(log(datum.value)/LN10-round(log(datum.value)/LN10))<0.01","value":-13},"value":-7},"labels":false,"title":null}},
     "detail":{"field":"s","type":"nominal"}}},
   {"data":{"name":"lab"},"transform":[{"filter":"datum.p=='0'"}],
    "mark":{"type":"text","align":"left","baseline":"middle","font":"DejaVu Sans","fontWeight":"bold","fontSize":29,"color":"#000"},
    "encoding":{
     "x":{"field":"x","type":"quantitative","scale":{"type":"log","domain":[0.1,1000],"nice":false},"axis":null},
     "y":{"field":"y","type":"quantitative","scale":{"type":"log","domain":[1e-14,1e-8],"nice":false},"axis":null},
     "text":{"field":"t"}}}
  ]},
 {"width":467,"height":598,
  "resolve":{"axis":{"x":"independent","y":"independent"}},
  "layer":[
   {"data":{"name":"sed"},"transform":[{"filter":"datum.p=='I' && datum.c=='r'"}],
    "mark":{"type":"line","color":"#ff0000","strokeWidth":2.5,"clip":true},
    "encoding":{
     "x":{"field":"x","type":"quantitative","scale":{"type":"log","domain":[0.1,1000],"nice":false},
      "axis":{"orient":"bottom","values":[0.1,0.2,0.3,0.4,0.5,0.6,0.7,0.8,0.9,1,2,3,4,5,6,7,8,9,10,20,30,40,50,60,70,80,90,100,200,300,400,500,600,700,800,900,1000],"tickSize":{"condition":{"test":"abs(log(datum.value)/LN10-round(log(datum.value)/LN10))<0.01","value":-20},"value":-10},"labels":false,"title":null}},
     "y":{"field":"y","type":"quantitative","scale":{"type":"log","domain":[1e-14,1e-8],"nice":false},
      "axis":{"orient":"left","values":[1e-14,2e-14,3e-14,4e-14,5e-14,6e-14,7e-14,8e-14,9e-14,1e-13,2e-13,3e-13,4e-13,5e-13,6e-13,7e-13,8e-13,9e-13,1e-12,2e-12,3e-12,4e-12,5e-12,6e-12,7e-12,8e-12,9e-12,1e-11,2e-11,3e-11,4e-11,5e-11,6e-11,7e-11,8e-11,9e-11,1e-10,2e-10,3e-10,4e-10,5e-10,6e-10,7e-10,8e-10,9e-10,1e-9,2e-9,3e-9,4e-9,5e-9,6e-9,7e-9,8e-9,9e-9,1e-8],"tickSize":{"condition":{"test":"abs(log(datum.value)/LN10-round(log(datum.value)/LN10))<0.01","value":-13},"value":-7},"labels":false,"title":null}},
     "detail":{"field":"s","type":"nominal"}}},
   {"data":{"name":"sed"},"transform":[{"filter":"datum.p=='I' && datum.c=='k'"}],
    "mark":{"type":"line","color":"#000000","strokeWidth":2.5,"clip":true},
    "encoding":{
     "x":{"field":"x","type":"quantitative","scale":{"type":"log","domain":[0.1,1000],"nice":false},
      "axis":{"orient":"top","values":[0.1,0.2,0.3,0.4,0.5,0.6,0.7,0.8,0.9,1,2,3,4,5,6,7,8,9,10,20,30,40,50,60,70,80,90,100,200,300,400,500,600,700,800,900,1000],"tickSize":{"condition":{"test":"abs(log(datum.value)/LN10-round(log(datum.value)/LN10))<0.01","value":-20},"value":-10},"labels":false,"title":null}},
     "y":{"field":"y","type":"quantitative","scale":{"type":"log","domain":[1e-14,1e-8],"nice":false},
      "axis":{"orient":"right","values":[1e-14,2e-14,3e-14,4e-14,5e-14,6e-14,7e-14,8e-14,9e-14,1e-13,2e-13,3e-13,4e-13,5e-13,6e-13,7e-13,8e-13,9e-13,1e-12,2e-12,3e-12,4e-12,5e-12,6e-12,7e-12,8e-12,9e-12,1e-11,2e-11,3e-11,4e-11,5e-11,6e-11,7e-11,8e-11,9e-11,1e-10,2e-10,3e-10,4e-10,5e-10,6e-10,7e-10,8e-10,9e-10,1e-9,2e-9,3e-9,4e-9,5e-9,6e-9,7e-9,8e-9,9e-9,1e-8],"tickSize":{"condition":{"test":"abs(log(datum.value)/LN10-round(log(datum.value)/LN10))<0.01","value":-13},"value":-7},"labels":false,"title":null}},
     "detail":{"field":"s","type":"nominal"}}},
   {"data":{"name":"lab"},"transform":[{"filter":"datum.p=='I'"}],
    "mark":{"type":"text","align":"left","baseline":"middle","font":"DejaVu Sans","fontWeight":"bold","fontSize":29,"color":"#000"},
    "encoding":{
     "x":{"field":"x","type":"quantitative","scale":{"type":"log","domain":[0.1,1000],"nice":false},"axis":null},
     "y":{"field":"y","type":"quantitative","scale":{"type":"log","domain":[1e-14,1e-8],"nice":false},"axis":null},
     "text":{"field":"t"}}}
  ]},
 {"width":467,"height":595,
  "resolve":{"axis":{"x":"independent","y":"independent"}},
  "layer":[
   {"data":{"name":"sed"},"transform":[{"filter":"datum.p=='II' && datum.c=='r'"}],
    "mark":{"type":"line","color":"#ff0000","strokeWidth":2.5,"clip":true},
    "encoding":{
     "x":{"field":"x","type":"quantitative","scale":{"type":"log","domain":[0.1,1000],"nice":false},
      "axis":{"orient":"bottom","values":[0.1,0.2,0.3,0.4,0.5,0.6,0.7,0.8,0.9,1,2,3,4,5,6,7,8,9,10,20,30,40,50,60,70,80,90,100,200,300,400,500,600,700,800,900,1000],"tickSize":{"condition":{"test":"abs(log(datum.value)/LN10-round(log(datum.value)/LN10))<0.01","value":-20},"value":-10},
       "labelExpr":"(abs(log(datum.value)/LN10-round(log(datum.value)/LN10))<0.01 && datum.value<500) ? ['10⁻¹','10⁰','10¹','10²','10³'][round(log(datum.value)/LN10)+1] : ''",
       "labelPadding":53,"labelBaseline":"middle","title":"λ (μm)","titleX":177,"titleY":66,"titleBaseline":"middle"}},
     "y":{"field":"y","type":"quantitative","scale":{"type":"log","domain":[1e-15,1e-9],"nice":false},
      "axis":{"orient":"left","values":[1e-15,2e-15,3e-15,4e-15,5e-15,6e-15,7e-15,8e-15,9e-15,1e-14,2e-14,3e-14,4e-14,5e-14,6e-14,7e-14,8e-14,9e-14,1e-13,2e-13,3e-13,4e-13,5e-13,6e-13,7e-13,8e-13,9e-13,1e-12,2e-12,3e-12,4e-12,5e-12,6e-12,7e-12,8e-12,9e-12,1e-11,2e-11,3e-11,4e-11,5e-11,6e-11,7e-11,8e-11,9e-11,1e-10,2e-10,3e-10,4e-10,5e-10,6e-10,7e-10,8e-10,9e-10,1e-9],"tickSize":{"condition":{"test":"abs(log(datum.value)/LN10-round(log(datum.value)/LN10))<0.01","value":-13},"value":-7},
       "labelExpr":"(abs(log(datum.value)/LN10-round(log(datum.value)/LN10))<0.01 && datum.value<5e-10) ? ['10⁻¹⁵','10⁻¹⁴','10⁻¹³','10⁻¹²','10⁻¹¹','10⁻¹⁰'][round(log(datum.value)/LN10)+15] : ''",
       "labelPadding":24,"title":"λFλ (ergs cm⁻² s⁻¹)","titleX":-127,"titleY":352,"titleBaseline":"middle"}},
     "detail":{"field":"s","type":"nominal"}}},
   {"data":{"name":"sed"},"transform":[{"filter":"datum.p=='II' && datum.c=='k'"}],
    "mark":{"type":"line","color":"#000000","strokeWidth":2.5,"clip":true},
    "encoding":{
     "x":{"field":"x","type":"quantitative","scale":{"type":"log","domain":[0.1,1000],"nice":false},
      "axis":{"orient":"top","values":[0.1,0.2,0.3,0.4,0.5,0.6,0.7,0.8,0.9,1,2,3,4,5,6,7,8,9,10,20,30,40,50,60,70,80,90,100,200,300,400,500,600,700,800,900,1000],"tickSize":{"condition":{"test":"abs(log(datum.value)/LN10-round(log(datum.value)/LN10))<0.01","value":-20},"value":-10},"labels":false,"title":null}},
     "y":{"field":"y","type":"quantitative","scale":{"type":"log","domain":[1e-15,1e-9],"nice":false},
      "axis":{"orient":"right","values":[1e-15,2e-15,3e-15,4e-15,5e-15,6e-15,7e-15,8e-15,9e-15,1e-14,2e-14,3e-14,4e-14,5e-14,6e-14,7e-14,8e-14,9e-14,1e-13,2e-13,3e-13,4e-13,5e-13,6e-13,7e-13,8e-13,9e-13,1e-12,2e-12,3e-12,4e-12,5e-12,6e-12,7e-12,8e-12,9e-12,1e-11,2e-11,3e-11,4e-11,5e-11,6e-11,7e-11,8e-11,9e-11,1e-10,2e-10,3e-10,4e-10,5e-10,6e-10,7e-10,8e-10,9e-10,1e-9],"tickSize":{"condition":{"test":"abs(log(datum.value)/LN10-round(log(datum.value)/LN10))<0.01","value":-13},"value":-7},"labels":false,"title":null}},
     "detail":{"field":"s","type":"nominal"}}},
   {"data":{"name":"lab"},"transform":[{"filter":"datum.p=='II'"}],
    "mark":{"type":"text","align":"left","baseline":"middle","font":"DejaVu Sans","fontWeight":"bold","fontSize":29,"color":"#000"},
    "encoding":{
     "x":{"field":"x","type":"quantitative","scale":{"type":"log","domain":[0.1,1000],"nice":false},"axis":null},
     "y":{"field":"y","type":"quantitative","scale":{"type":"log","domain":[1e-15,1e-9],"nice":false},"axis":null},
     "text":{"field":"t"}}}
  ]},
 {"width":467,"height":595,
  "resolve":{"axis":{"x":"independent","y":"independent"}},
  "layer":[
   {"data":{"name":"sed"},"transform":[{"filter":"datum.p=='III' && datum.c=='r'"}],
    "mark":{"type":"line","color":"#ff0000","strokeWidth":2.5,"clip":true},
    "encoding":{
     "x":{"field":"x","type":"quantitative","scale":{"type":"log","domain":[0.1,1000],"nice":false},
      "axis":{"orient":"bottom","values":[0.1,0.2,0.3,0.4,0.5,0.6,0.7,0.8,0.9,1,2,3,4,5,6,7,8,9,10,20,30,40,50,60,70,80,90,100,200,300,400,500,600,700,800,900,1000],"tickSize":{"condition":{"test":"abs(log(datum.value)/LN10-round(log(datum.value)/LN10))<0.01","value":-20},"value":-10},
       "labelExpr":"abs(log(datum.value)/LN10-round(log(datum.value)/LN10))<0.01 ? ['10⁻¹','10⁰','10¹','10²','10³'][round(log(datum.value)/LN10)+1] : ''",
       "labelPadding":53,"labelBaseline":"middle","title":"λ (μm)","titleX":231,"titleY":66,"titleBaseline":"middle"}},
     "y":{"field":"y","type":"quantitative","scale":{"type":"log","domain":[1e-15,1e-9],"nice":false},
      "axis":{"orient":"left","values":[1e-15,2e-15,3e-15,4e-15,5e-15,6e-15,7e-15,8e-15,9e-15,1e-14,2e-14,3e-14,4e-14,5e-14,6e-14,7e-14,8e-14,9e-14,1e-13,2e-13,3e-13,4e-13,5e-13,6e-13,7e-13,8e-13,9e-13,1e-12,2e-12,3e-12,4e-12,5e-12,6e-12,7e-12,8e-12,9e-12,1e-11,2e-11,3e-11,4e-11,5e-11,6e-11,7e-11,8e-11,9e-11,1e-10,2e-10,3e-10,4e-10,5e-10,6e-10,7e-10,8e-10,9e-10,1e-9],"tickSize":{"condition":{"test":"abs(log(datum.value)/LN10-round(log(datum.value)/LN10))<0.01","value":-13},"value":-7},"labels":false,"title":null}},
     "detail":{"field":"s","type":"nominal"}}},
   {"data":{"name":"sed"},"transform":[{"filter":"datum.p=='III' && datum.c=='k'"}],
    "mark":{"type":"line","color":"#000000","strokeWidth":2.5,"clip":true},
    "encoding":{
     "x":{"field":"x","type":"quantitative","scale":{"type":"log","domain":[0.1,1000],"nice":false},
      "axis":{"orient":"top","values":[0.1,0.2,0.3,0.4,0.5,0.6,0.7,0.8,0.9,1,2,3,4,5,6,7,8,9,10,20,30,40,50,60,70,80,90,100,200,300,400,500,600,700,800,900,1000],"tickSize":{"condition":{"test":"abs(log(datum.value)/LN10-round(log(datum.value)/LN10))<0.01","value":-20},"value":-10},"labels":false,"title":null}},
     "y":{"field":"y","type":"quantitative","scale":{"type":"log","domain":[1e-15,1e-9],"nice":false},
      "axis":{"orient":"right","values":[1e-15,2e-15,3e-15,4e-15,5e-15,6e-15,7e-15,8e-15,9e-15,1e-14,2e-14,3e-14,4e-14,5e-14,6e-14,7e-14,8e-14,9e-14,1e-13,2e-13,3e-13,4e-13,5e-13,6e-13,7e-13,8e-13,9e-13,1e-12,2e-12,3e-12,4e-12,5e-12,6e-12,7e-12,8e-12,9e-12,1e-11,2e-11,3e-11,4e-11,5e-11,6e-11,7e-11,8e-11,9e-11,1e-10,2e-10,3e-10,4e-10,5e-10,6e-10,7e-10,8e-10,9e-10,1e-9],"tickSize":{"condition":{"test":"abs(log(datum.value)/LN10-round(log(datum.value)/LN10))<0.01","value":-13},"value":-7},"labels":false,"title":null}},
     "detail":{"field":"s","type":"nominal"}}},
   {"data":{"name":"lab"},"transform":[{"filter":"datum.p=='III'"}],
    "mark":{"type":"text","align":"left","baseline":"middle","font":"DejaVu Sans","fontWeight":"bold","fontSize":29,"color":"#000"},
    "encoding":{
     "x":{"field":"x","type":"quantitative","scale":{"type":"log","domain":[0.1,1000],"nice":false},"axis":null},
     "y":{"field":"y","type":"quantitative","scale":{"type":"log","domain":[1e-15,1e-9],"nice":false},"axis":null},
     "text":{"field":"t"}}}
  ]}
]
}
